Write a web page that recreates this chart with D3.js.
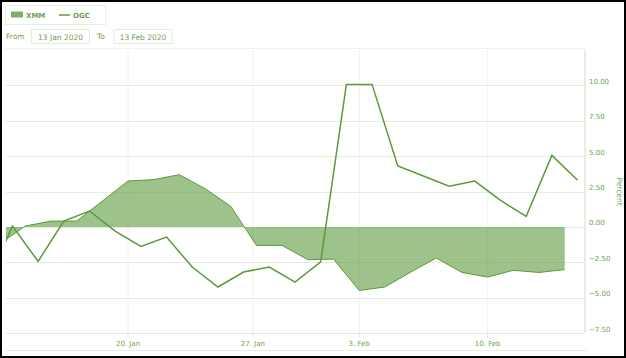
<!DOCTYPE html>
<html>
<head>
<meta charset="utf-8">
<script src="https://cdn.jsdelivr.net/npm/d3@7"></script>
<style>
  body { margin: 0; background: #fff; }
  svg { display: block; font-family: "DejaVu Sans", sans-serif; }
</style>
</head>
<body>
<svg id="chart" width="626" height="358"></svg>
<script>
// trading days shown (27 Jan has no data)
const xmmDates = ["2020-01-13","2020-01-14","2020-01-15","2020-01-16","2020-01-17",
  "2020-01-20","2020-01-21","2020-01-22","2020-01-23","2020-01-24",
  "2020-01-28","2020-01-29","2020-01-30","2020-01-31",
  "2020-02-03","2020-02-04","2020-02-05","2020-02-06","2020-02-07",
  "2020-02-10","2020-02-11","2020-02-12","2020-02-13"];
const xmmValues = [-1.2, 0.06, 0.41, 0.41, 1.82,
  3.24, 3.34, 3.69, 2.70, 1.45,
  -1.31, -1.31, -2.32, -2.28,
  -4.49, -4.25, -3.2, -2.20, -3.22,
  -3.55, -3.07, -3.22, -3.02];

// OGC prices are stamped at midday, so they sit between the XMM points
const ogcDates = ["2020-01-10"].concat(xmmDates);
const ogcValues = [-4.1, 0.06, -2.44, 0.41, 1.12, -0.3,
  -1.38, -0.72, -2.84, -4.25, -3.19,
  -2.84, -3.90, -2.47, 10.07,
  10.07, 4.30, 3.6, 2.88, 3.24,
  1.87, 0.74, 5.05, 3.29];
const ogcHour = 12;

const tickDates = ["2020-01-20","2020-01-27","2020-02-03","2020-02-10"];
const tickLabels = ["20. Jan","27. Jan","3. Feb","10. Feb"];
const yTicks = [-7.5, -5, -2.5, 0, 2.5, 5, 7.5, 10];

const green = "#5b9a3c";
const textGreen = "#6f9e52";

const svg = d3.select("#chart");
const parse = d3.utcParse("%Y-%m-%d");

const xmm = xmmDates.map((d, i) => ({ t: +parse(d), v: xmmValues[i] }));
const ogc = ogcDates.map((d, i) => ({ t: +d3.utcHour.offset(parse(d), ogcHour), v: ogcValues[i] }));

// ordinal axis: every timestamp from both series gets one equal slot
const stamps = Array.from(new Set(xmm.map(d => d.t).concat(ogc.map(d => d.t)))).sort((a, b) => a - b);
function slot(t) {
  const i = d3.bisectLeft(stamps, t);
  if (stamps[i] === t) return i;
  const a = stamps[i - 1], b = stamps[i];
  return i - 1 + (t - a) / (b - a);
}

const plot = { left: 6, right: 584, top: 50, bottom: 333 };
const firstSlot = slot(xmm[0].t) + 0.5;
const x = d3.scaleLinear()
  .domain([firstSlot, stamps.length - 0.5])
  .range([plot.left, plot.right]);
const y = d3.scaleLinear()
  .domain([-7.5, 12.5])
  .range([plot.bottom, plot.top]);

// outer frame
svg.append("rect")
  .attr("x", 1).attr("y", 1).attr("width", 624).attr("height", 356)
  .attr("fill", "none").attr("stroke", "#000").attr("stroke-width", 2);

// legend box
const legend = svg.append("g");
legend.append("rect")
  .attr("x", 5.5).attr("y", 5.5).attr("width", 100).attr("height", 19)
  .attr("fill", "#fff").attr("stroke", "#e8eee2");
legend.append("rect")
  .attr("x", 11).attr("y", 11.5).attr("width", 12).attr("height", 6)
  .attr("fill", green).attr("opacity", 0.8);
legend.append("text")
  .attr("x", 26).attr("y", 18).attr("font-size", 7).attr("font-weight", "bold")
  .attr("fill", textGreen).text("XMM");
legend.append("line")
  .attr("x1", 59).attr("x2", 70).attr("y1", 15).attr("y2", 15)
  .attr("stroke", green).attr("stroke-width", 1.5);
legend.append("text")
  .attr("x", 73).attr("y", 18).attr("font-size", 7).attr("font-weight", "bold")
  .attr("fill", textGreen).text("OGC");

// range selector
const range = svg.append("g").attr("font-size", 7.5).attr("fill", textGreen);
range.append("text").attr("x", 6).attr("y", 39).text("From");
range.append("text").attr("x", 97).attr("y", 39).text("To");
[[31, "13 Jan 2020"], [113.5, "13 Feb 2020"]].forEach(([bx, label]) => {
  range.append("rect")
    .attr("x", bx + 0.5).attr("y", 29.5).attr("width", 58).attr("height", 14)
    .attr("fill", "#fff").attr("stroke", "#e3ebdb");
  range.append("text")
    .attr("x", bx + 29.5).attr("y", 39.5).attr("text-anchor", "middle").text(label);
});

// separators above and below the chart
svg.append("line")
  .attr("x1", 5).attr("x2", 586).attr("y1", 48.5).attr("y2", 48.5)
  .attr("stroke", "#eef2ea");
svg.append("line")
  .attr("x1", 5).attr("x2", 586).attr("y1", 350.5).attr("y2", 350.5)
  .attr("stroke", "#e6ede0");

// grid
const tickX = tickDates.map(d => x(slot(+parse(d))));
svg.append("g").selectAll("line")
  .data(tickX)
  .enter().append("line")
  .attr("x1", d => d).attr("x2", d => d)
  .attr("y1", plot.top).attr("y2", plot.bottom)
  .attr("stroke", "#f0f2ed");
svg.append("g").selectAll("line")
  .data(yTicks)
  .enter().append("line")
  .attr("x1", plot.left).attr("x2", plot.right)
  .attr("y1", d => Math.round(y(d)) + 0.5).attr("y2", d => Math.round(y(d)) + 0.5)
  .attr("stroke", "#e6ede0").attr("stroke-width", 1.2);

// x axis
svg.append("line")
  .attr("x1", plot.left).attr("x2", plot.right)
  .attr("y1", plot.bottom + 0.5).attr("y2", plot.bottom + 0.5)
  .attr("stroke", "#e2eadb").attr("stroke-width", 1.2);
svg.append("g").selectAll("line")
  .data(tickX)
  .enter().append("line")
  .attr("x1", d => d).attr("x2", d => d)
  .attr("y1", plot.bottom).attr("y2", plot.bottom + 5)
  .attr("stroke", "#e2eadb");
svg.append("g").selectAll("text")
  .data(tickLabels)
  .enter().append("text")
  .attr("x", (d, i) => tickX[i])
  .attr("y", 346)
  .attr("text-anchor", "middle")
  .attr("font-size", 7)
  .attr("fill", textGreen)
  .text(d => d);

// y axis on the right
svg.append("line")
  .attr("x1", 585).attr("x2", 585)
  .attr("y1", plot.top).attr("y2", plot.bottom)
  .attr("stroke", "#dfe8d7").attr("stroke-width", 1.5);
svg.append("g").selectAll("text")
  .data(yTicks)
  .enter().append("text")
  .attr("x", 589)
  .attr("y", d => y(d) - 1.5)
  .attr("font-size", 7)
  .attr("fill", textGreen)
  .text(d => d3.format(".2f")(d));
svg.append("text")
  .attr("transform", `translate(617,${(plot.top + plot.bottom) / 2}) rotate(90)`)
  .attr("text-anchor", "middle")
  .attr("font-size", 7.5)
  .attr("fill", textGreen)
  .text("Percent");

// series, clipped to the plot area
svg.append("clipPath").attr("id", "clip")
  .append("rect")
  .attr("x", plot.left).attr("y", plot.top)
  .attr("width", plot.right - plot.left).attr("height", plot.bottom - plot.top);
const series = svg.append("g").attr("clip-path", "url(#clip)");

const area = d3.area()
  .x(d => x(slot(d.t)))
  .y0(y(0))
  .y1(d => y(d.v));
const line = d3.line()
  .x(d => x(slot(d.t)))
  .y(d => y(d.v));

series.append("path")
  .datum(xmm)
  .attr("d", area)
  .attr("fill", green)
  .attr("fill-opacity", 0.6);
series.append("path")
  .datum(xmm)
  .attr("d", line)
  .attr("fill", "none")
  .attr("stroke", green)
  .attr("stroke-width", 1);
series.append("path")
  .datum(ogc)
  .attr("d", line)
  .attr("fill", "none")
  .attr("stroke", green)
  .attr("stroke-width", 1.5);
</script>
</body>
</html>
